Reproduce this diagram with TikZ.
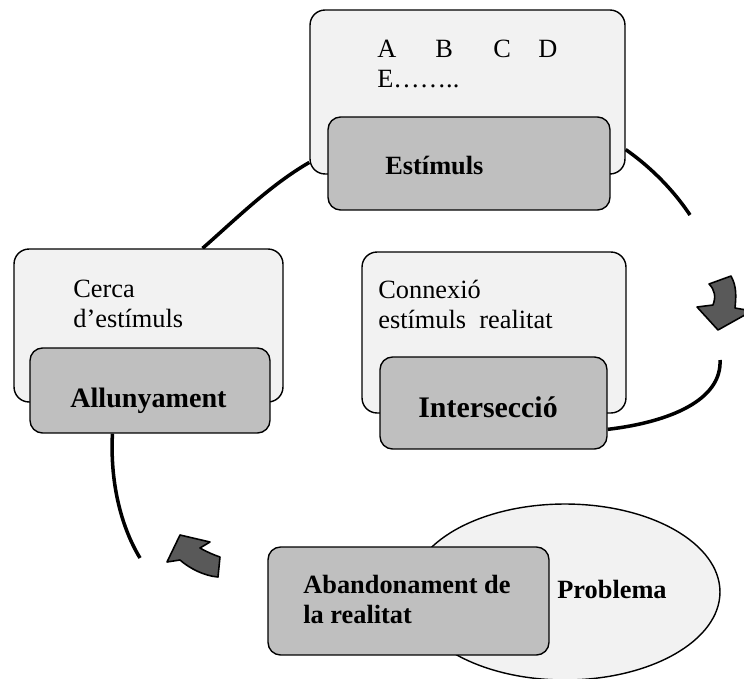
\documentclass[tikz,border=0pt]{standalone}
\usepackage{fontspec}
\setmainfont{Liberation Serif}
\usetikzlibrary{shapes.geometric,backgrounds}
\definecolor{backgray}{RGB}{242,242,242}
\definecolor{frontgray}{RGB}{191,191,191}
\definecolor{arrowgray}{RGB}{89,89,89}

\begin{document}
\begin{tikzpicture}[
        x=0.02cm, y=-0.02cm,
        backbox/.style={rectangle, rounded corners=0.3cm, draw=black, line width=0.8pt, fill=backgray},
        frontbox/.style={rectangle, rounded corners=0.25cm, draw=black, line width=0.8pt, fill=frontgray},
        problem/.style={ellipse, draw=black, line width=0.8pt, fill=backgray, minimum width=6.2cm, minimum height=3.52cm},
        plaintext/.style={anchor=base west, inner sep=0pt, font=\fontsize{15}{17}\selectfont},
        boldtext/.style={plaintext, font=\fontsize{15}{17}\selectfont\bfseries},
        link/.style={line width=2pt, black},
        turn/.style={draw=black, line width=0.9pt, fill=arrowgray, line join=round}
    ]
    \useasboundingbox (0,0) rectangle (744,679);

    % Estimuls (top)
    \node[backbox, minimum width=6.3cm, minimum height=3.28cm] (stimback) at (467.5,92) {};
    \node[frontbox, minimum width=5.64cm, minimum height=1.86cm] (stimfront) at (469,163.5) {};
    \foreach \letter/\xpos in {A/377, B/435, C/493, D/538}
        \node[plaintext] (letter\letter) at (\xpos,58) {\letter};
    \node[plaintext] (letterE) at (377,88) {E……..};
    \node[boldtext] (stimtext) at (385,174) {Estímuls};

    % Allunyament (left)
    \node[backbox, minimum width=5.38cm, minimum height=3.06cm] (awayback) at (148.5,325.5) {};
    \node[frontbox, minimum width=4.8cm, minimum height=1.7cm] (awayfront) at (150,390.5) {};
    \node[plaintext] (searchone) at (73,297) {Cerca};
    \node[plaintext] (searchtwo) at (73,327) {d’estímuls};
    \node[boldtext, font=\fontsize{16}{18}\selectfont\bfseries] (awaytext) at (70,407) {Allunyament};

    % Interseccio (middle)
    \node[backbox, minimum width=5.28cm, minimum height=3.22cm] (crossback) at (494,332.5) {};
    \node[frontbox, minimum width=4.54cm, minimum height=1.84cm] (crossfront) at (493.5,403) {};
    \node[plaintext] (linkone) at (378,298) {Connexió};
    \node[plaintext] (linktwo) at (378,328) {estímuls\ \ realitat};
    \node[boldtext, font=\fontsize{17}{19}\selectfont\bfseries] (crosstext) at (418,417) {Intersecció};

    % Problema and Abandonament (bottom)
    \node[problem] (problem) at (565,592) {};
    \node[frontbox, minimum width=5.62cm, minimum height=2.16cm] (leaveframe) at (408.5,601) {};
    \node[boldtext] (leaveone) at (303,593) {Abandonament de};
    \node[boldtext] (leavetwo) at (303,623) {la realitat};
    \node[boldtext] (problemtext) at (557,598) {Problema};

    % Free ends of the cycle
    \coordinate (rightend) at (690,215);
    \coordinate (rightstart) at (720,360);
    \coordinate (leftend) at (140,558);

    % Cycle connectors
    \begin{scope}[on background layer]
        \draw[link] (awayback.55) .. controls (235,220) and (270,185) .. (stimback.204);
        \draw[link] (stimback.-20) .. controls (645,163) and (670,185) .. (rightend);
        \draw[link] (rightstart) .. controls (722,400) and (670,422) .. (crossfront.-13);
        \draw[link] (awayfront.229) .. controls (110,480) and (120,525) .. (leftend);
    \end{scope}

    % Curved block arrows
    \draw[turn] (709,284) -- (731,276) .. controls (737,287) and (736,297) .. (735,308)
        -- (752,311) -- (718,330) -- (697,307) -- (713,305)
        .. controls (716,297) and (715,290) .. (709,284) -- cycle;
    \draw[turn] (180,535) -- (210,542) -- (200,548)
        .. controls (207,552) and (214,555) .. (220,557) -- (218,577)
        .. controls (204,576) and (189,568) .. (180,560) -- (167,562) -- cycle;

\end{tikzpicture}
\end{document}
